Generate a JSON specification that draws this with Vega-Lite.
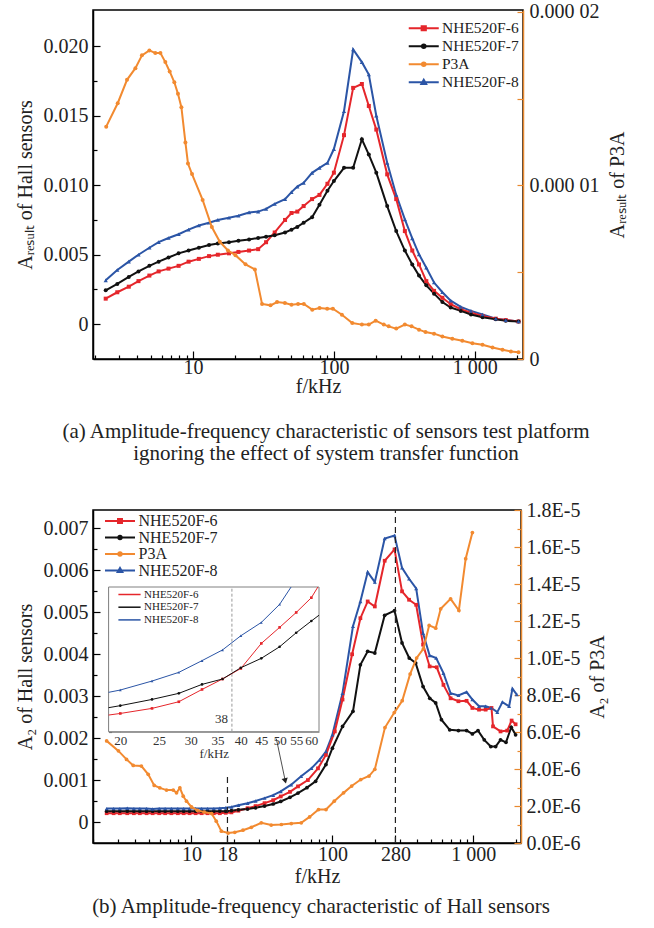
{
  "$schema": "https://vega.github.io/schema/vega-lite/v6.json",
  "background": "white",
  "padding": {"left": 14, "top": 0, "right": 0, "bottom": 0},
  "spacing": 34,
  "datasets": {
    "a_hall": [
      {"s":"NHE520F-8","f":2.4,"v":0.00316},{"s":"NHE520F-8","f":2.9,"v":0.0039},{"s":"NHE520F-8","f":3.5,"v":0.0045},{"s":"NHE520F-8","f":4.1,"v":0.005},{"s":"NHE520F-8","f":4.9,"v":0.0055},{"s":"NHE520F-8","f":5.7,"v":0.0059},{"s":"NHE520F-8","f":6.7,"v":0.0062},{"s":"NHE520F-8","f":7.9,"v":0.00647},{"s":"NHE520F-8","f":9.3,"v":0.0068},{"s":"NHE520F-8","f":11,"v":0.0071},{"s":"NHE520F-8","f":13,"v":0.0073},{"s":"NHE520F-8","f":15,"v":0.0075},{"s":"NHE520F-8","f":18,"v":0.00766},{"s":"NHE520F-8","f":21,"v":0.0078},{"s":"NHE520F-8","f":25,"v":0.00804},{"s":"NHE520F-8","f":29,"v":0.0081},{"s":"NHE520F-8","f":33,"v":0.0083},{"s":"NHE520F-8","f":38,"v":0.00865},{"s":"NHE520F-8","f":45,"v":0.009},{"s":"NHE520F-8","f":50,"v":0.0095},{"s":"NHE520F-8","f":55,"v":0.0099},{"s":"NHE520F-8","f":61,"v":0.01017},{"s":"NHE520F-8","f":70,"v":0.01089},{"s":"NHE520F-8","f":79,"v":0.01125},{"s":"NHE520F-8","f":90,"v":0.01161},{"s":"NHE520F-8","f":100,"v":0.0126},{"s":"NHE520F-8","f":118,"v":0.01532},{"s":"NHE520F-8","f":137,"v":0.01976},{"s":"NHE520F-8","f":158,"v":0.01885},{"s":"NHE520F-8","f":177,"v":0.01796},{"s":"NHE520F-8","f":200,"v":0.015},{"s":"NHE520F-8","f":239,"v":0.01161},{"s":"NHE520F-8","f":277,"v":0.0093},{"s":"NHE520F-8","f":319,"v":0.00754},{"s":"NHE520F-8","f":360,"v":0.00618},{"s":"NHE520F-8","f":402,"v":0.00503},{"s":"NHE520F-8","f":453,"v":0.00407},{"s":"NHE520F-8","f":514,"v":0.003},{"s":"NHE520F-8","f":589,"v":0.0023},{"s":"NHE520F-8","f":675,"v":0.0017},{"s":"NHE520F-8","f":796,"v":0.00125},{"s":"NHE520F-8","f":940,"v":0.00096},{"s":"NHE520F-8","f":1135,"v":0.0007},{"s":"NHE520F-8","f":1410,"v":0.0004},{"s":"NHE520F-8","f":1660,"v":0.0003},{"s":"NHE520F-8","f":2045,"v":0.0002},
      {"s":"NHE520F-6","f":2.4,"v":0.00184},{"s":"NHE520F-6","f":2.9,"v":0.0023},{"s":"NHE520F-6","f":3.5,"v":0.0027},{"s":"NHE520F-6","f":4.1,"v":0.0031},{"s":"NHE520F-6","f":4.9,"v":0.0035},{"s":"NHE520F-6","f":5.7,"v":0.0038},{"s":"NHE520F-6","f":6.7,"v":0.004},{"s":"NHE520F-6","f":7.9,"v":0.0042},{"s":"NHE520F-6","f":9.3,"v":0.0045},{"s":"NHE520F-6","f":11,"v":0.0047},{"s":"NHE520F-6","f":13,"v":0.0049},{"s":"NHE520F-6","f":15,"v":0.005},{"s":"NHE520F-6","f":18,"v":0.0051},{"s":"NHE520F-6","f":21,"v":0.0052},{"s":"NHE520F-6","f":25,"v":0.0053},{"s":"NHE520F-6","f":29,"v":0.0054},{"s":"NHE520F-6","f":33,"v":0.0059},{"s":"NHE520F-6","f":38,"v":0.0066},{"s":"NHE520F-6","f":45,"v":0.0075},{"s":"NHE520F-6","f":50,"v":0.008},{"s":"NHE520F-6","f":55,"v":0.0081},{"s":"NHE520F-6","f":61,"v":0.0085},{"s":"NHE520F-6","f":70,"v":0.009},{"s":"NHE520F-6","f":79,"v":0.0093},{"s":"NHE520F-6","f":90,"v":0.0101},{"s":"NHE520F-6","f":100,"v":0.0109},{"s":"NHE520F-6","f":118,"v":0.0136},{"s":"NHE520F-6","f":137,"v":0.017},{"s":"NHE520F-6","f":158,"v":0.01728},{"s":"NHE520F-6","f":177,"v":0.0157},{"s":"NHE520F-6","f":200,"v":0.014},{"s":"NHE520F-6","f":239,"v":0.01078},{"s":"NHE520F-6","f":277,"v":0.009},{"s":"NHE520F-6","f":319,"v":0.0067},{"s":"NHE520F-6","f":360,"v":0.0053},{"s":"NHE520F-6","f":402,"v":0.0043},{"s":"NHE520F-6","f":453,"v":0.0031},{"s":"NHE520F-6","f":514,"v":0.0024},{"s":"NHE520F-6","f":589,"v":0.0019},{"s":"NHE520F-6","f":675,"v":0.00144},{"s":"NHE520F-6","f":796,"v":0.00108},{"s":"NHE520F-6","f":940,"v":0.00083},{"s":"NHE520F-6","f":1135,"v":0.0006},{"s":"NHE520F-6","f":1410,"v":0.0004},{"s":"NHE520F-6","f":1660,"v":0.0003},{"s":"NHE520F-6","f":2045,"v":0.0002},
      {"s":"NHE520F-7","f":2.4,"v":0.00244},{"s":"NHE520F-7","f":2.9,"v":0.0029},{"s":"NHE520F-7","f":3.5,"v":0.0034},{"s":"NHE520F-7","f":4.1,"v":0.0038},{"s":"NHE520F-7","f":4.9,"v":0.0042},{"s":"NHE520F-7","f":5.7,"v":0.0045},{"s":"NHE520F-7","f":6.7,"v":0.0048},{"s":"NHE520F-7","f":7.9,"v":0.0051},{"s":"NHE520F-7","f":9.3,"v":0.0053},{"s":"NHE520F-7","f":11,"v":0.0055},{"s":"NHE520F-7","f":13,"v":0.0057},{"s":"NHE520F-7","f":15,"v":0.0058},{"s":"NHE520F-7","f":18,"v":0.0059},{"s":"NHE520F-7","f":21,"v":0.006},{"s":"NHE520F-7","f":25,"v":0.0061},{"s":"NHE520F-7","f":29,"v":0.0062},{"s":"NHE520F-7","f":33,"v":0.0063},{"s":"NHE520F-7","f":38,"v":0.0064},{"s":"NHE520F-7","f":45,"v":0.0066},{"s":"NHE520F-7","f":50,"v":0.0068},{"s":"NHE520F-7","f":55,"v":0.007},{"s":"NHE520F-7","f":61,"v":0.0073},{"s":"NHE520F-7","f":70,"v":0.0077},{"s":"NHE520F-7","f":79,"v":0.0086},{"s":"NHE520F-7","f":90,"v":0.0096},{"s":"NHE520F-7","f":100,"v":0.0103},{"s":"NHE520F-7","f":118,"v":0.01125},{"s":"NHE520F-7","f":137,"v":0.01125},{"s":"NHE520F-7","f":158,"v":0.0133},{"s":"NHE520F-7","f":177,"v":0.0122},{"s":"NHE520F-7","f":200,"v":0.0109},{"s":"NHE520F-7","f":239,"v":0.0085},{"s":"NHE520F-7","f":277,"v":0.0067},{"s":"NHE520F-7","f":319,"v":0.0053},{"s":"NHE520F-7","f":360,"v":0.0043},{"s":"NHE520F-7","f":402,"v":0.0035},{"s":"NHE520F-7","f":453,"v":0.0028},{"s":"NHE520F-7","f":514,"v":0.0022},{"s":"NHE520F-7","f":589,"v":0.0016},{"s":"NHE520F-7","f":675,"v":0.0012},{"s":"NHE520F-7","f":796,"v":0.00096},{"s":"NHE520F-7","f":940,"v":0.0007},{"s":"NHE520F-7","f":1135,"v":0.0005},{"s":"NHE520F-7","f":1410,"v":0.00035},{"s":"NHE520F-7","f":1660,"v":0.00025},{"s":"NHE520F-7","f":2045,"v":0.0002}
    ],
    "a_p3a": [
      {"s":"P3A","f":2.42,"v":1.338e-5},{"s":"P3A","f":2.92,"v":1.473e-5},{"s":"P3A","f":3.4,"v":1.608e-5},{"s":"P3A","f":3.9,"v":1.675e-5},{"s":"P3A","f":4.34,"v":1.749e-5},{"s":"P3A","f":4.9,"v":1.777e-5},{"s":"P3A","f":5.4,"v":1.762e-5},{"s":"P3A","f":5.87,"v":1.762e-5},{"s":"P3A","f":6.36,"v":1.71e-5},{"s":"P3A","f":6.83,"v":1.656e-5},{"s":"P3A","f":7.37,"v":1.594e-5},{"s":"P3A","f":7.82,"v":1.527e-5},{"s":"P3A","f":8.27,"v":1.45e-5},{"s":"P3A","f":8.83,"v":1.247e-5},{"s":"P3A","f":9.21,"v":1.126e-5},{"s":"P3A","f":9.84,"v":1.065e-5},{"s":"P3A","f":11.7,"v":0.916e-5},{"s":"P3A","f":13.6,"v":0.76e-5},{"s":"P3A","f":15.5,"v":0.675e-5},{"s":"P3A","f":17.7,"v":0.625e-5},{"s":"P3A","f":20,"v":0.598e-5},{"s":"P3A","f":23.6,"v":0.545e-5},{"s":"P3A","f":27.5,"v":0.516e-5},{"s":"P3A","f":30.9,"v":0.317e-5},{"s":"P3A","f":35.5,"v":0.309e-5},{"s":"P3A","f":39.5,"v":0.328e-5},{"s":"P3A","f":44.9,"v":0.323e-5},{"s":"P3A","f":50,"v":0.313e-5},{"s":"P3A","f":55.7,"v":0.317e-5},{"s":"P3A","f":61.2,"v":0.317e-5},{"s":"P3A","f":70.2,"v":0.284e-5},{"s":"P3A","f":79.1,"v":0.294e-5},{"s":"P3A","f":89.6,"v":0.29e-5},{"s":"P3A","f":98.4,"v":0.29e-5},{"s":"P3A","f":114,"v":0.255e-5},{"s":"P3A","f":135,"v":0.207e-5},{"s":"P3A","f":158,"v":0.198e-5},{"s":"P3A","f":177,"v":0.198e-5},{"s":"P3A","f":198,"v":0.221e-5},{"s":"P3A","f":226,"v":0.198e-5},{"s":"P3A","f":245,"v":0.188e-5},{"s":"P3A","f":277,"v":0.175e-5},{"s":"P3A","f":319,"v":0.198e-5},{"s":"P3A","f":356,"v":0.188e-5},{"s":"P3A","f":402,"v":0.169e-5},{"s":"P3A","f":447,"v":0.155e-5},{"s":"P3A","f":514,"v":0.146e-5},{"s":"P3A","f":589,"v":0.13e-5},{"s":"P3A","f":693,"v":0.117e-5},{"s":"P3A","f":816,"v":0.105e-5},{"s":"P3A","f":962,"v":0.091e-5},{"s":"P3A","f":1135,"v":0.082e-5},{"s":"P3A","f":1337,"v":0.066e-5},{"s":"P3A","f":1574,"v":0.053e-5},{"s":"P3A","f":1806,"v":0.043e-5},{"s":"P3A","f":2045,"v":0.039e-5}
    ],
    "b_hall": [
      {"s":"NHE520F-8","f":2.5,"v":0.00032},{"s":"NHE520F-8","f":2.8,"v":0.00032},{"s":"NHE520F-8","f":3.1,"v":0.00032},{"s":"NHE520F-8","f":3.5,"v":0.00033},{"s":"NHE520F-8","f":3.9,"v":0.00032},{"s":"NHE520F-8","f":4.3,"v":0.00032},{"s":"NHE520F-8","f":4.8,"v":0.00032},{"s":"NHE520F-8","f":5.3,"v":0.00031},{"s":"NHE520F-8","f":5.9,"v":0.00032},{"s":"NHE520F-8","f":6.5,"v":0.00032},{"s":"NHE520F-8","f":7.2,"v":0.00032},{"s":"NHE520F-8","f":8,"v":0.00032},{"s":"NHE520F-8","f":8.8,"v":0.00032},{"s":"NHE520F-8","f":9.7,"v":0.00032},{"s":"NHE520F-8","f":10.7,"v":0.00032},{"s":"NHE520F-8","f":11.8,"v":0.00032},{"s":"NHE520F-8","f":13,"v":0.00032},{"s":"NHE520F-8","f":14.4,"v":0.00032},{"s":"NHE520F-8","f":15.9,"v":0.00033},{"s":"NHE520F-8","f":17.5,"v":0.00034},{"s":"NHE520F-8","f":19.2,"v":0.00036},{"s":"NHE520F-8","f":21.5,"v":0.0004},{"s":"NHE520F-8","f":25,"v":0.00045},{"s":"NHE520F-8","f":28.5,"v":0.0005},{"s":"NHE520F-8","f":33,"v":0.00057},{"s":"NHE520F-8","f":38,"v":0.00064},{"s":"NHE520F-8","f":43,"v":0.00073},{"s":"NHE520F-8","f":51,"v":0.00089},{"s":"NHE520F-8","f":60,"v":0.00109},{"s":"NHE520F-8","f":71,"v":0.00128},{"s":"NHE520F-8","f":81,"v":0.00148},{"s":"NHE520F-8","f":90,"v":0.00168},{"s":"NHE520F-8","f":100,"v":0.00208},{"s":"NHE520F-8","f":118,"v":0.00307},{"s":"NHE520F-8","f":140,"v":0.00467},{"s":"NHE520F-8","f":158,"v":0.00526},{"s":"NHE520F-8","f":178,"v":0.00596},{"s":"NHE520F-8","f":200,"v":0.00572},{"s":"NHE520F-8","f":235,"v":0.00676},{"s":"NHE520F-8","f":276,"v":0.00683},{"s":"NHE520F-8","f":312,"v":0.00606},{"s":"NHE520F-8","f":350,"v":0.0058},{"s":"NHE520F-8","f":393,"v":0.00557},{"s":"NHE520F-8","f":440,"v":0.0045},{"s":"NHE520F-8","f":490,"v":0.00397},{"s":"NHE520F-8","f":545,"v":0.00391},{"s":"NHE520F-8","f":614,"v":0.00355},{"s":"NHE520F-8","f":690,"v":0.00307},{"s":"NHE520F-8","f":784,"v":0.00302},{"s":"NHE520F-8","f":896,"v":0.0031},{"s":"NHE520F-8","f":985,"v":0.00292},{"s":"NHE520F-8","f":1098,"v":0.00276},{"s":"NHE520F-8","f":1223,"v":0.00276},{"s":"NHE520F-8","f":1340,"v":0.00272},{"s":"NHE520F-8","f":1480,"v":0.00262},{"s":"NHE520F-8","f":1610,"v":0.00286},{"s":"NHE520F-8","f":1795,"v":0.00276},{"s":"NHE520F-8","f":1896,"v":0.00318},{"s":"NHE520F-8","f":2035,"v":0.00304},
      {"s":"NHE520F-6","f":2.5,"v":0.00021},{"s":"NHE520F-6","f":2.8,"v":0.00021},{"s":"NHE520F-6","f":3.1,"v":0.00021},{"s":"NHE520F-6","f":3.5,"v":0.00021},{"s":"NHE520F-6","f":3.9,"v":0.00021},{"s":"NHE520F-6","f":4.3,"v":0.00021},{"s":"NHE520F-6","f":4.8,"v":0.00021},{"s":"NHE520F-6","f":5.3,"v":0.00021},{"s":"NHE520F-6","f":5.9,"v":0.00021},{"s":"NHE520F-6","f":6.5,"v":0.00021},{"s":"NHE520F-6","f":7.2,"v":0.00021},{"s":"NHE520F-6","f":8,"v":0.00021},{"s":"NHE520F-6","f":8.8,"v":0.00021},{"s":"NHE520F-6","f":9.7,"v":0.00021},{"s":"NHE520F-6","f":10.7,"v":0.00021},{"s":"NHE520F-6","f":11.8,"v":0.00021},{"s":"NHE520F-6","f":13,"v":0.00021},{"s":"NHE520F-6","f":14.4,"v":0.00021},{"s":"NHE520F-6","f":15.9,"v":0.00021},{"s":"NHE520F-6","f":17.5,"v":0.00022},{"s":"NHE520F-6","f":19.2,"v":0.00023},{"s":"NHE520F-6","f":21.5,"v":0.00027},{"s":"NHE520F-6","f":25,"v":0.00033},{"s":"NHE520F-6","f":28.5,"v":0.00038},{"s":"NHE520F-6","f":33,"v":0.00045},{"s":"NHE520F-6","f":38,"v":0.00052},{"s":"NHE520F-6","f":43,"v":0.00061},{"s":"NHE520F-6","f":50,"v":0.00072},{"s":"NHE520F-6","f":57,"v":0.00085},{"s":"NHE520F-6","f":67,"v":0.001},{"s":"NHE520F-6","f":79,"v":0.00128},{"s":"NHE520F-6","f":90,"v":0.0016},{"s":"NHE520F-6","f":104,"v":0.00216},{"s":"NHE520F-6","f":118,"v":0.00292},{"s":"NHE520F-6","f":138,"v":0.004},{"s":"NHE520F-6","f":158,"v":0.00486},{"s":"NHE520F-6","f":178,"v":0.00526},{"s":"NHE520F-6","f":200,"v":0.00514},{"s":"NHE520F-6","f":235,"v":0.00623},{"s":"NHE520F-6","f":276,"v":0.0065},{"s":"NHE520F-6","f":312,"v":0.0055},{"s":"NHE520F-6","f":350,"v":0.0053},{"s":"NHE520F-6","f":393,"v":0.00518},{"s":"NHE520F-6","f":440,"v":0.00423},{"s":"NHE520F-6","f":490,"v":0.00371},{"s":"NHE520F-6","f":550,"v":0.00369},{"s":"NHE520F-6","f":614,"v":0.00327},{"s":"NHE520F-6","f":690,"v":0.00295},{"s":"NHE520F-6","f":784,"v":0.00288},{"s":"NHE520F-6","f":896,"v":0.00289},{"s":"NHE520F-6","f":985,"v":0.00272},{"s":"NHE520F-6","f":1098,"v":0.00268},{"s":"NHE520F-6","f":1223,"v":0.00268},{"s":"NHE520F-6","f":1346,"v":0.00272},{"s":"NHE520F-6","f":1380,"v":0.00228},{"s":"NHE520F-6","f":1560,"v":0.00216},{"s":"NHE520F-6","f":1740,"v":0.00218},{"s":"NHE520F-6","f":1870,"v":0.00242},{"s":"NHE520F-6","f":1996,"v":0.00233},
      {"s":"NHE520F-7","f":2.5,"v":0.00026},{"s":"NHE520F-7","f":2.8,"v":0.00026},{"s":"NHE520F-7","f":3.1,"v":0.00026},{"s":"NHE520F-7","f":3.5,"v":0.00026},{"s":"NHE520F-7","f":3.9,"v":0.00026},{"s":"NHE520F-7","f":4.3,"v":0.00026},{"s":"NHE520F-7","f":4.8,"v":0.00026},{"s":"NHE520F-7","f":5.3,"v":0.00026},{"s":"NHE520F-7","f":5.9,"v":0.00026},{"s":"NHE520F-7","f":6.5,"v":0.00026},{"s":"NHE520F-7","f":7.2,"v":0.00026},{"s":"NHE520F-7","f":8,"v":0.00026},{"s":"NHE520F-7","f":8.8,"v":0.00026},{"s":"NHE520F-7","f":9.7,"v":0.00026},{"s":"NHE520F-7","f":10.7,"v":0.00026},{"s":"NHE520F-7","f":11.8,"v":0.00026},{"s":"NHE520F-7","f":13,"v":0.00026},{"s":"NHE520F-7","f":14.4,"v":0.00026},{"s":"NHE520F-7","f":15.9,"v":0.00026},{"s":"NHE520F-7","f":17.5,"v":0.00026},{"s":"NHE520F-7","f":19.2,"v":0.00027},{"s":"NHE520F-7","f":21.5,"v":0.00029},{"s":"NHE520F-7","f":25,"v":0.00031},{"s":"NHE520F-7","f":28.5,"v":0.00034},{"s":"NHE520F-7","f":33,"v":0.00038},{"s":"NHE520F-7","f":38,"v":0.00043},{"s":"NHE520F-7","f":43,"v":0.00049},{"s":"NHE520F-7","f":50,"v":0.00059},{"s":"NHE520F-7","f":57,"v":0.00069},{"s":"NHE520F-7","f":66,"v":0.00082},{"s":"NHE520F-7","f":76,"v":0.00097},{"s":"NHE520F-7","f":90,"v":0.00137},{"s":"NHE520F-7","f":100,"v":0.00176},{"s":"NHE520F-7","f":118,"v":0.00228},{"s":"NHE520F-7","f":140,"v":0.00264},{"s":"NHE520F-7","f":158,"v":0.00375},{"s":"NHE520F-7","f":178,"v":0.00407},{"s":"NHE520F-7","f":200,"v":0.00403},{"s":"NHE520F-7","f":235,"v":0.00493},{"s":"NHE520F-7","f":276,"v":0.00504},{"s":"NHE520F-7","f":312,"v":0.00427},{"s":"NHE520F-7","f":351,"v":0.00391},{"s":"NHE520F-7","f":390,"v":0.00379},{"s":"NHE520F-7","f":440,"v":0.00323},{"s":"NHE520F-7","f":491,"v":0.00295},{"s":"NHE520F-7","f":541,"v":0.00284},{"s":"NHE520F-7","f":594,"v":0.00244},{"s":"NHE520F-7","f":680,"v":0.0022},{"s":"NHE520F-7","f":784,"v":0.00218},{"s":"NHE520F-7","f":896,"v":0.00218},{"s":"NHE520F-7","f":985,"v":0.0021},{"s":"NHE520F-7","f":1080,"v":0.00218},{"s":"NHE520F-7","f":1196,"v":0.00196},{"s":"NHE520F-7","f":1330,"v":0.0018},{"s":"NHE520F-7","f":1441,"v":0.0018},{"s":"NHE520F-7","f":1560,"v":0.00196},{"s":"NHE520F-7","f":1705,"v":0.0019},{"s":"NHE520F-7","f":1860,"v":0.00226},{"s":"NHE520F-7","f":1996,"v":0.00208}
    ],
    "b_p3a": [
      {"s":"P3A","f":2.5,"v":5.52e-6},{"s":"P3A","f":3.03,"v":4.98e-6},{"s":"P3A","f":3.46,"v":4.52e-6},{"s":"P3A","f":3.86,"v":4.19e-6},{"s":"P3A","f":4.41,"v":4.16e-6},{"s":"P3A","f":4.93,"v":3.71e-6},{"s":"P3A","f":5.44,"v":3.11e-6},{"s":"P3A","f":5.96,"v":2.98e-6},{"s":"P3A","f":6.65,"v":2.86e-6},{"s":"P3A","f":7.42,"v":2.86e-6},{"s":"P3A","f":7.83,"v":2.71e-6},{"s":"P3A","f":8.27,"v":2.98e-6},{"s":"P3A","f":8.74,"v":2.53e-6},{"s":"P3A","f":9.22,"v":2.26e-6},{"s":"P3A","f":10,"v":1.95e-6},{"s":"P3A","f":11,"v":1.77e-6},{"s":"P3A","f":12.3,"v":1.67e-6},{"s":"P3A","f":13.9,"v":1.59e-6},{"s":"P3A","f":15,"v":1.18e-6},{"s":"P3A","f":16.3,"v":0.64e-6},{"s":"P3A","f":18.2,"v":0.54e-6},{"s":"P3A","f":20.3,"v":0.58e-6},{"s":"P3A","f":23.2,"v":0.69e-6},{"s":"P3A","f":26.6,"v":0.85e-6},{"s":"P3A","f":31.3,"v":1.09e-6},{"s":"P3A","f":36.8,"v":0.97e-6},{"s":"P3A","f":43.4,"v":1.0e-6},{"s":"P3A","f":51.1,"v":1.05e-6},{"s":"P3A","f":60.1,"v":1.09e-6},{"s":"P3A","f":68.9,"v":1.41e-6},{"s":"P3A","f":79.7,"v":1.81e-6},{"s":"P3A","f":90.1,"v":1.81e-6},{"s":"P3A","f":103,"v":2.26e-6},{"s":"P3A","f":120,"v":2.71e-6},{"s":"P3A","f":137,"v":3.08e-6},{"s":"P3A","f":159,"v":3.43e-6},{"s":"P3A","f":182,"v":3.62e-6},{"s":"P3A","f":200,"v":3.98e-6},{"s":"P3A","f":236,"v":6.24e-6},{"s":"P3A","f":275,"v":7.05e-6},{"s":"P3A","f":313,"v":7.69e-6},{"s":"P3A","f":356,"v":9.13e-6},{"s":"P3A","f":396,"v":10.0e-6},{"s":"P3A","f":442,"v":10.49e-6},{"s":"P3A","f":486,"v":11.76e-6},{"s":"P3A","f":541,"v":11.61e-6},{"s":"P3A","f":587,"v":12.66e-6},{"s":"P3A","f":690,"v":13.2e-6},{"s":"P3A","f":790,"v":12.57e-6},{"s":"P3A","f":883,"v":15.37e-6},{"s":"P3A","f":985,"v":16.78e-6}
    ],
    "inset": [
      {"s":"NHE520F-8","f":18.7,"u":27.2},{"s":"NHE520F-8","f":20,"u":28.8},{"s":"NHE520F-8","f":24,"u":35.0},{"s":"NHE520F-8","f":28,"u":41.0},{"s":"NHE520F-8","f":32,"u":49.1},{"s":"NHE520F-8","f":36,"u":56.5},{"s":"NHE520F-8","f":40,"u":66.3},{"s":"NHE520F-8","f":45,"u":75.5},{"s":"NHE520F-8","f":50,"u":88.0},{"s":"NHE520F-8","f":53.4,"u":100},
      {"s":"NHE520F-6","f":18.7,"u":11.5},{"s":"NHE520F-6","f":20,"u":12.6},{"s":"NHE520F-6","f":24,"u":16.1},{"s":"NHE520F-6","f":28,"u":20.7},{"s":"NHE520F-6","f":32,"u":29.2},{"s":"NHE520F-6","f":36,"u":36.4},{"s":"NHE520F-6","f":40,"u":43.7},{"s":"NHE520F-6","f":45,"u":61.0},{"s":"NHE520F-6","f":50,"u":72.1},{"s":"NHE520F-6","f":55,"u":82.4},{"s":"NHE520F-6","f":60,"u":92.6},{"s":"NHE520F-6","f":62.3,"u":100},
      {"s":"NHE520F-7","f":18.7,"u":16.6},{"s":"NHE520F-7","f":20,"u":18.0},{"s":"NHE520F-7","f":24,"u":22.3},{"s":"NHE520F-7","f":28,"u":26.5},{"s":"NHE520F-7","f":32,"u":32.7},{"s":"NHE520F-7","f":36,"u":36.4},{"s":"NHE520F-7","f":40,"u":44.2},{"s":"NHE520F-7","f":45,"u":50.7},{"s":"NHE520F-7","f":50,"u":58.7},{"s":"NHE520F-7","f":55,"u":68.4},{"s":"NHE520F-7","f":60,"u":76.5},{"s":"NHE520F-7","f":62.7,"u":80.5}
    ]
  },
  "vconcat": [
    {
      "width": 430,
      "height": 349,
      "title": {"text": ["(a) Amplitude-frequency characteristic of sensors test platform", "ignoring the effect of system transfer function"], "orient": "bottom", "anchor": "middle", "fontSize": 21, "lineHeight": 22, "offset": 25, "dx": 18},
      "resolve": {"scale": {"x": "independent", "y": "independent"}, "axis": {"x": "independent", "y": "independent"}},
      "layer": [
        {
          "data": {"name": "a_hall"},
          "encoding": {
            "x": {"field": "f", "type": "quantitative", "scale": {"type": "log", "domain": [1.95, 2200], "nice": false},
              "axis": {"orient": "bottom", "title": "f/kHz", "titleX": 225, "values": [2,3,4,5,6,7,8,9,10,20,30,40,50,60,70,80,90,100,200,300,400,500,600,700,800,900,1000,2000],
                "labelExpr": "datum.value === 10 ? '10' : datum.value === 100 ? '100' : datum.value === 1000 ? '1 000' : ''",
                "tickSize": {"condition": {"test": "datum.value === 10 || datum.value === 100 || datum.value === 1000", "value": -8}, "value": -4},
                "labelPadding": 6, "titlePadding": -5, "labelFlush": false, "labelOverlap": false}},
            "y": {"field": "v", "type": "quantitative", "scale": {"domain": [-0.0025, 0.0226], "nice": false, "zero": false},
              "axis": {"orient": "left", "title": "Aᵣₑₛᵤₗₜ of Hall sensors", "values": [0,0.0025,0.005,0.0075,0.01,0.0125,0.015,0.0175,0.02],
                "labelExpr": "round(datum.value*2000) % 10 === 0 ? (datum.value === 0 ? '0' : format(datum.value, '.3f')) : ''",
                "tickSize": {"condition": {"test": "round(datum.value*2000) % 10 !== 0", "value": -4}, "value": -7},
                "labelPadding": 12, "titlePadding": 8, "labelOverlap": false}}
          },
          "layer": [
            {"transform": [{"filter": "false"}],
             "mark": {"type": "point", "filled": false, "strokeWidth": 2, "opacity": 1},
             "encoding": {
               "color": {"field": "s", "type": "nominal",
                 "scale": {"domain": ["NHE520F-6", "NHE520F-7", "P3A", "NHE520F-8"], "range": ["#e5262b", "#111111", "#f28a30", "#2b55a6"]},
                 "legend": {"title": null, "orient": "none", "legendX": 323, "legendY": 10.5, "padding": 0, "labelFontSize": 15.5, "symbolSize": 144, "symbolStrokeWidth": 2, "symbolOpacity": 1, "rowPadding": 1, "labelOffset": 10.5}},
               "shape": {"field": "s", "type": "nominal",
                 "scale": {"domain": ["NHE520F-6", "NHE520F-7", "P3A", "NHE520F-8"], "range": ["M-2.5,0H2.5M-0.35,-0.35H0.35V0.35H-0.35Z", "M-2.5,0H2.5M-0.3,0A0.3,0.3,0,1,0,0.3,0A0.3,0.3,0,1,0,-0.3,0Z", "M-2.5,0H2.5M-0.3,0A0.3,0.3,0,1,0,0.3,0A0.3,0.3,0,1,0,-0.3,0Z", "M-2.5,0H2.5M0,-0.42L0.4,0.28L-0.4,0.28Z"]},
                 "legend": {"title": null, "orient": "none", "legendX": 323, "legendY": 10.5, "padding": 0, "labelFontSize": 15.5, "symbolSize": 144, "symbolStrokeWidth": 2, "symbolOpacity": 1, "rowPadding": 1, "labelOffset": 10.5}}}},
            {"mark": {"type": "line", "strokeWidth": 2}, "encoding": {"color": {"field": "s", "type": "nominal"}}},
            {"transform": [{"filter": "datum.s === 'NHE520F-6'"}], "mark": {"type": "point", "filled": true, "shape": "square", "size": 16, "color": "#e5262b", "opacity": 1}},
            {"transform": [{"filter": "datum.s === 'NHE520F-7'"}], "mark": {"type": "point", "filled": true, "shape": "circle", "size": 16, "color": "#111111", "opacity": 1}},
            {"transform": [{"filter": "datum.s === 'NHE520F-8'"}], "mark": {"type": "point", "filled": true, "shape": "triangle-up", "size": 18, "color": "#2b55a6", "opacity": 1}}
          ]
        },
        {
          "data": {"name": "a_p3a"},
          "encoding": {
            "x": {"field": "f", "type": "quantitative", "scale": {"type": "log", "domain": [1.95, 2200], "nice": false}, "axis": null},
            "y": {"field": "v", "type": "quantitative", "scale": {"domain": [0, 0.0000201], "nice": false},
              "axis": {"orient": "right", "title": "Aᵣₑₛᵤₗₜ of P3A", "titleAngle": 270, "titleBaseline": "top", "values": [0, 0.000005, 0.00001, 0.000015, 0.00002],
                "labelExpr": "datum.value === 0 ? '0' : datum.value > 0.000019 ? '0.000 02' : (datum.value > 0.0000095 && datum.value < 0.0000105) ? '0.000 01' : ''",
                "tickSize": -6, "labelPadding": 12, "titlePadding": 8, "domainColor": "#e8892f", "tickColor": "#e8892f", "labelOverlap": false, "labelFlush": false}}
          },
          "layer": [
            {"mark": {"type": "line", "strokeWidth": 2}, "encoding": {"color": {"field": "s", "type": "nominal"}}},
            {"mark": {"type": "point", "filled": true, "size": 16, "opacity": 1, "shape": "circle", "color": "#f28a30"}}
          ]
        }
      ]
    },
    {
      "width": 428,
      "height": 333,
      "title": {"text": "(b) Amplitude-frequency characteristic of Hall sensors", "orient": "bottom", "anchor": "middle", "fontSize": 21, "offset": 10, "dx": 14},
      "resolve": {"scale": {"x": "independent", "y": "independent"}, "axis": {"x": "independent", "y": "independent"}},
      "layer": [
        {
          "encoding": {
            "x": {"field": "f", "type": "quantitative", "scale": {"type": "log", "domain": [2.0, 2180], "nice": false},
              "axis": {"orient": "bottom", "title": "f/kHz", "titleX": 224, "values": [2,3,4,5,6,7,8,9,10,18,20,30,40,50,60,70,80,90,100,200,280,300,400,500,600,700,800,900,1000,2000],
                "labelExpr": "datum.value === 10 ? '10' : datum.value === 18 ? '18' : datum.value === 100 ? '100' : datum.value === 280 ? '280' : datum.value === 1000 ? '1 000' : ''",
                "tickSize": {"condition": {"test": "datum.value === 10 || datum.value === 18 || datum.value === 100 || datum.value === 280 || datum.value === 1000", "value": -8}, "value": -4},
                "labelPadding": 9.5, "titlePadding": -2.5, "labelFlush": false, "labelOverlap": false}},
            "y": {"field": "v", "type": "quantitative", "scale": {"domain": [-0.0005, 0.00744], "nice": false, "zero": false},
              "axis": {"orient": "left", "title": "A₂ of Hall sensors", "values": [0,0.0005,0.001,0.0015,0.002,0.0025,0.003,0.0035,0.004,0.0045,0.005,0.0055,0.006,0.0065,0.007],
                "labelExpr": "round(datum.value*2000) % 2 === 0 ? (datum.value === 0 ? '0' : format(datum.value, '.3f')) : ''",
                "tickSize": {"condition": {"test": "round(datum.value*2000) % 2 !== 0", "value": -4}, "value": -7},
                "labelPadding": 12, "titlePadding": 8, "labelOverlap": false}}
          },
          "layer": [
            {"data": {"name": "b_hall"},
             "transform": [{"filter": "false"}],
             "mark": {"type": "point", "filled": false, "strokeWidth": 2, "opacity": 1},
             "encoding": {
               "color": {"field": "s", "type": "nominal",
                 "scale": {"domain": ["NHE520F-6", "NHE520F-7", "P3A", "NHE520F-8"], "range": ["#e5262b", "#111111", "#f28a30", "#2b55a6"]},
                 "legend": {"title": null, "orient": "none", "legendX": 19, "legendY": 3, "padding": 0, "labelFontSize": 16, "symbolSize": 144, "symbolStrokeWidth": 2, "symbolOpacity": 1, "rowPadding": 0.5, "labelOffset": 10.5}},
               "shape": {"field": "s", "type": "nominal",
                 "scale": {"domain": ["NHE520F-6", "NHE520F-7", "P3A", "NHE520F-8"], "range": ["M-2.5,0H2.5M-0.33,-0.33H0.33V0.33H-0.33Z", "M-2.5,0H2.5M-0.28,0A0.28,0.28,0,1,0,0.28,0A0.28,0.28,0,1,0,-0.28,0Z", "M-2.5,0H2.5M-0.28,0A0.28,0.28,0,1,0,0.28,0A0.28,0.28,0,1,0,-0.28,0Z", "M-2.5,0H2.5M0,-0.4L0.38,0.26L-0.38,0.26Z"]},
                 "legend": {"title": null, "orient": "none", "legendX": 19, "legendY": 3, "padding": 0, "labelFontSize": 16, "symbolSize": 144, "symbolStrokeWidth": 2, "symbolOpacity": 1, "rowPadding": 0.5, "labelOffset": 10.5}}}},
            {"data": {"name": "b_hall"},
             "mark": {"type": "line", "strokeWidth": 2},
             "encoding": {"color": {"field": "s", "type": "nominal"}}},
            {"data": {"name": "b_hall"}, "transform": [{"filter": "datum.s === 'NHE520F-6'"}], "mark": {"type": "point", "filled": true, "shape": "square", "size": 14, "color": "#e5262b", "opacity": 1}},
            {"data": {"name": "b_hall"}, "transform": [{"filter": "datum.s === 'NHE520F-7'"}], "mark": {"type": "point", "filled": true, "shape": "circle", "size": 14, "color": "#111111", "opacity": 1}},
            {"data": {"name": "b_hall"}, "transform": [{"filter": "datum.s === 'NHE520F-8'"}], "mark": {"type": "point", "filled": true, "shape": "triangle-up", "size": 16, "color": "#2b55a6", "opacity": 1}},
            {"data": {"values": [{"f": 18, "v": -0.0005, "v2": 0.00112}, {"f": 280, "v": -0.0005, "v2": 0.00744}]},
             "mark": {"type": "rule", "color": "#222", "strokeWidth": 1.2, "strokeDash": [6, 4]},
             "encoding": {"y2": {"field": "v2"}}},
            {"data": {"values": [{"f": 40, "v": 0.00199}, {"f": 46.3, "v": 0.00098}]},
             "mark": {"type": "line", "color": "#222", "strokeWidth": 0.8}},
            {"data": {"values": [{"f": 46.3, "v": 0.00098}]},
             "mark": {"type": "point", "shape": "triangle-down", "angle": 347, "size": 40, "filled": true, "color": "#222", "opacity": 1}}
          ]
        },
        {
          "data": {"name": "b_p3a"},
          "encoding": {
            "x": {"field": "f", "type": "quantitative", "scale": {"type": "log", "domain": [2.0, 2180], "nice": false}, "axis": null},
            "y": {"field": "v", "type": "quantitative", "scale": {"domain": [0, 0.000018], "nice": false},
              "axis": {"orient": "right", "title": "A₂ of P3A", "titleAngle": 270, "titleBaseline": "top",
                "values": [0,0.000001,0.000002,0.000003,0.000004,0.000005,0.000006,0.000007,0.000008,0.000009,0.00001,0.000011,0.000012,0.000013,0.000014,0.000015,0.000016,0.000017,0.000018],
                "labelExpr": "round(datum.value*1e6) % 2 === 0 ? (datum.value < 0.0000095 ? format(datum.value*1e6, '.1f') + 'E-6' : format(datum.value*1e5, '.1f') + 'E-5') : ''",
                "tickSize": {"condition": {"test": "round(datum.value*1e6) % 2 !== 0", "value": -4}, "value": -7},
                "labelPadding": 12, "titlePadding": 8, "domainColor": "#e8892f", "tickColor": "#e8892f", "labelOverlap": false, "labelFlush": false}}
          },
          "layer": [
            {"mark": {"type": "line", "strokeWidth": 2}, "encoding": {"color": {"field": "s", "type": "nominal"}}},
            {"mark": {"type": "point", "filled": true, "size": 14, "opacity": 1, "shape": "circle", "color": "#f28a30"}}
          ]
        },
        {
          "encoding": {
            "x": {"field": "f", "type": "quantitative", "scale": {"type": "log", "domain": [18.7, 62.7], "range": [15.6, 226], "nice": false},
              "axis": {"orient": "bottom", "offset": -111.3, "title": "f/kHz", "titleFontSize": 13, "labelFontSize": 13, "values": [20,25,30,35,40,45,50,55,60], "format": "d",
                "tickSize": -3, "labelPadding": 6, "titlePadding": 0, "domainColor": "#777", "tickColor": "#777", "domainWidth": 1, "labelColor": "#333", "titleColor": "#333", "labelFlush": false, "labelOverlap": false}},
            "y": {"field": "u", "type": "quantitative", "scale": {"domain": [0, 100], "range": [221.7, 77], "nice": false, "zero": false},
              "axis": {"orient": "left", "offset": -15.6, "title": null, "labels": false, "values": [0,7,14,21,28,35,42,49,56,63,70,77,84,91,98],
                "tickSize": -3, "domainColor": "#777", "tickColor": "#777", "domainWidth": 1}}
          },
          "layer": [
            {"data": {"values": [{"f": 18.7, "u": 0, "f2": 62.7, "u2": 100}]},
             "mark": {"type": "rect", "fill": "white", "stroke": "#808080", "strokeWidth": 1},
             "encoding": {"x2": {"field": "f2"}, "y2": {"field": "u2"}}},
            {"data": {"values": [{"f": 38, "u": 0, "u2": 100}]},
             "mark": {"type": "rule", "color": "#999", "strokeWidth": 1, "strokeDash": [3, 2]},
             "encoding": {"y2": {"field": "u2"}}},
            {"data": {"values": [{"f": 38, "u": 9, "t": "38"}]},
             "mark": {"type": "text", "align": "right", "dx": -4, "baseline": "middle", "fontSize": 13, "font": "Liberation Serif", "color": "#333"},
             "encoding": {"text": {"field": "t"}}},
            {"data": {"name": "inset"},
             "mark": {"type": "line", "strokeWidth": 1},
             "encoding": {"stroke": {"field": "s", "type": "nominal",
               "scale": {"domain": ["NHE520F-6", "NHE520F-7", "NHE520F-8"], "range": ["#e5262b", "#111111", "#2b55a6"]},
               "legend": {"title": null, "orient": "none", "legendX": 31, "legendY": 79, "padding": 0, "labelFontSize": 11, "symbolType": "M-3.7,0H3.7", "symbolSize": 36, "symbolStrokeWidth": 1.5, "rowPadding": 0.7, "labelOffset": 9}}}},
            {"data": {"name": "inset"}, "transform": [{"filter": "datum.s === 'NHE520F-6' && datum.f > 19.5 && datum.f < 61 && datum.u < 100"}], "mark": {"type": "point", "filled": true, "shape": "square", "size": 7, "color": "#e5262b", "opacity": 1}},
            {"data": {"name": "inset"}, "transform": [{"filter": "datum.s === 'NHE520F-7' && datum.f > 19.5 && datum.f < 61 && datum.u < 100"}], "mark": {"type": "point", "filled": true, "shape": "circle", "size": 7, "color": "#111111", "opacity": 1}},
            {"data": {"name": "inset"}, "transform": [{"filter": "datum.s === 'NHE520F-8' && datum.f > 19.5 && datum.f < 61 && datum.u < 100"}], "mark": {"type": "point", "filled": true, "shape": "triangle-up", "size": 8, "color": "#2b55a6", "opacity": 1}}
          ]
        }
      ]
    }
  ],
  "resolve": {"scale": {"color": "independent", "stroke": "independent", "shape": "independent"}, "legend": {"color": "independent", "stroke": "independent", "shape": "independent"}},
  "config": {
    "font": "Liberation Serif",
    "view": {"stroke": "#000", "strokeWidth": 1.5},
    "axis": {"grid": false, "labelFont": "Liberation Serif", "titleFont": "Liberation Serif", "labelFontSize": 20, "titleFontSize": 20, "titleFontWeight": "normal", "labelColor": "#222", "titleColor": "#222", "domainColor": "#000", "tickColor": "#000", "domainWidth": 1.5, "tickWidth": 1.2},
    "legend": {"labelFont": "Liberation Serif", "labelColor": "#222"},
    "title": {"font": "Liberation Serif", "fontWeight": "normal", "color": "#222"}
  }
}
